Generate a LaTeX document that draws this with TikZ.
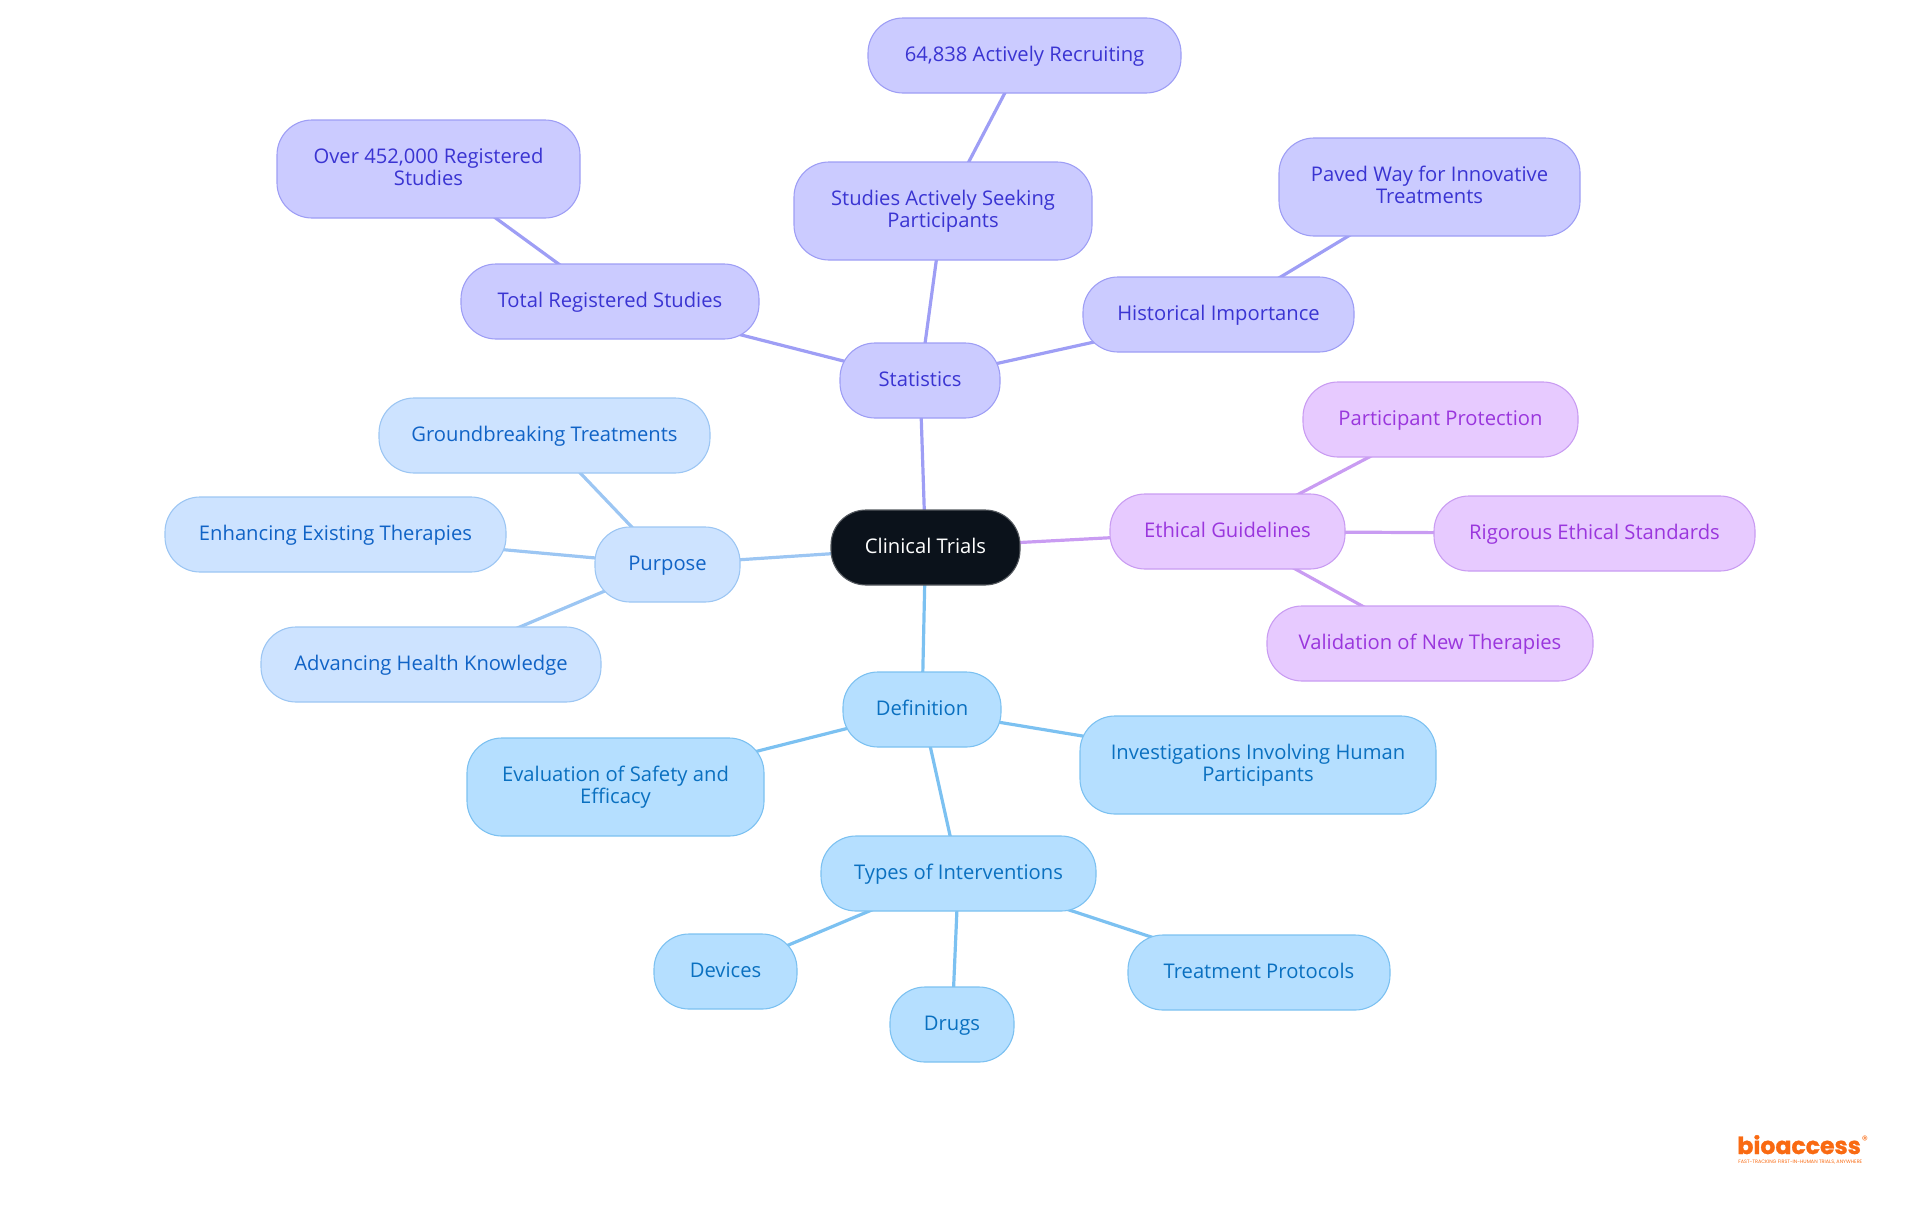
\documentclass[tikz,border=0pt]{standalone}
\usepackage{fontspec}
\setmainfont{Open Sans}
\newfontfamily\logofont[BoldFeatures={FakeBold=1.2}]{Poppins}
\usetikzlibrary{backgrounds}
\definecolor{stF}{HTML}{CBCBFF}\definecolor{stD}{HTML}{9E9EF5}\definecolor{stT}{HTML}{3A34D2}
\definecolor{etF}{HTML}{E7CAFF}\definecolor{etD}{HTML}{C99CF2}\definecolor{etT}{HTML}{9A36DD}
\definecolor{puF}{HTML}{CDE3FF}\definecolor{puD}{HTML}{9CC6F3}\definecolor{puT}{HTML}{1063C6}
\definecolor{deF}{HTML}{B5DFFF}\definecolor{deD}{HTML}{7CC1F1}\definecolor{deT}{HTML}{0A70C0}
\definecolor{ctF}{HTML}{0B121B}\definecolor{ctD}{HTML}{555A60}
\definecolor{logoC}{HTML}{F96A12}
\tikzset{
  mm/.style={rectangle,rounded corners=17.5pt,inner sep=0pt,line width=0.55pt,align=center,
    text height=8.3pt,text depth=2.6pt,
    font=\fontsize{10.1pt}{11pt}\selectfont},
  two/.style={text height=19.1pt},
  st/.style={mm,draw=stD,fill=stF,text=stT},
  et/.style={mm,draw=etD,fill=etF,text=etT},
  pu/.style={mm,draw=puD,fill=puF,text=puT},
  de/.style={mm,draw=deD,fill=deF,text=deT},
  ct/.style={mm,draw=ctD,fill=ctF,text=white},
  lnk/.style={line width=1.6pt},
}
\newcommand\mmnode[7]{%
  \pgfmathsetmacro\mmcx{(#3+#5)/2}\pgfmathsetmacro\mmcy{(#4+#6)/2}%
  \pgfmathsetmacro\mmw{(#5-#3)*0.5}\pgfmathsetmacro\mmh{(#6-#4)*0.5}%
  \node[#2,minimum width=\mmw pt,minimum height=\mmh pt] (#1) at (\mmcx,\mmcy) {#7};}
\begin{document}
\begin{tikzpicture}[x=0.5pt,y=-0.5pt]
\useasboundingbox (0,0) rectangle (1920,1215);
\mmnode{clin}{ct}{831}{510}{1020}{585}{Clinical Trials}
\mmnode{stat}{st}{840}{343}{1000}{418}{Statistics}
\mmnode{total}{st}{461}{264}{759}{339}{Total Registered Studies}
\mmnode{over}{st,two}{277}{120}{580}{218}{Over 452,000 Registered\\Studies}
\mmnode{seek}{st,two}{794}{162}{1092}{260}{Studies Actively Seeking\\Participants}
\mmnode{recr}{st}{868}{18}{1181}{93}{64,838 Actively Recruiting}
\mmnode{hist}{st}{1083}{277}{1354}{352}{Historical Importance}
\mmnode{paved}{st,two}{1279}{138}{1580}{236}{Paved Way for Innovative\\Treatments}
\mmnode{ethic}{et}{1110}{494}{1345}{569}{Ethical Guidelines}
\mmnode{part}{et}{1303}{382}{1578}{457}{Participant Protection}
\mmnode{rigo}{et}{1434}{496}{1755}{571}{Rigorous Ethical Standards}
\mmnode{vali}{et}{1267}{606}{1593}{681}{Validation of New Therapies}
\mmnode{purp}{pu}{595}{527}{740}{602}{Purpose}
\mmnode{grou}{pu}{379}{398}{710}{473}{Groundbreaking Treatments}
\mmnode{enha}{pu}{165}{497}{506}{572}{Enhancing Existing Therapies}
\mmnode{adva}{pu}{261}{627}{601}{702}{Advancing Health Knowledge}
\mmnode{defi}{de}{843}{672}{1001}{747}{Definition}
\mmnode{eval}{de,two}{467}{738}{764}{836}{Evaluation of Safety and\\Efficacy}
\mmnode{inve}{de,two}{1080}{716}{1436}{814}{Investigations Involving Human\\Participants}
\mmnode{type}{de}{821}{836}{1096}{911}{Types of Interventions}
\mmnode{devi}{de}{654}{934}{797}{1009}{Devices}
\mmnode{drug}{de}{890}{987}{1014}{1062}{Drugs}
\mmnode{trea}{de}{1128}{935}{1390}{1010}{Treatment Protocols}
\node[text=logoC,font=\logofont\bfseries\fontsize{11.8pt}{12pt}\selectfont,inner sep=0pt,anchor=base west] (logo) at (1737,1154) {bioaccess};
\node[text=logoC,font=\logofont\fontsize{6pt}{6pt}\selectfont,inner sep=0pt] (regm) at (1865,1140) {®};
\node[text=logoC,font=\logofont\fontsize{2.45pt}{3pt}\selectfont,inner sep=0pt,anchor=base west] (tag) at (1738,1163) {FAST-TRACKING FIRST-IN-HUMAN TRIALS, ANYWHERE};
\begin{scope}[on background layer]
\draw[lnk,stD] (clin.center)--(stat.center);
\draw[lnk,stD] (stat.center)--(total.center);
\draw[lnk,stD] (total.center)--(over.center);
\draw[lnk,stD] (stat.center)--(seek.center);
\draw[lnk,stD] (seek.center)--(recr.center);
\draw[lnk,stD] (stat.center)--(hist.center);
\draw[lnk,stD] (hist.center)--(paved.center);
\draw[lnk,etD] (clin.center)--(ethic.center);
\draw[lnk,etD] (ethic.center)--(part.center);
\draw[lnk,etD] (ethic.center)--(rigo.center);
\draw[lnk,etD] (ethic.center)--(vali.center);
\draw[lnk,puD] (clin.center)--(purp.center);
\draw[lnk,puD] (purp.center)--(grou.center);
\draw[lnk,puD] (purp.center)--(enha.center);
\draw[lnk,puD] (purp.center)--(adva.center);
\draw[lnk,deD] (clin.center)--(defi.center);
\draw[lnk,deD] (defi.center)--(eval.center);
\draw[lnk,deD] (defi.center)--(inve.center);
\draw[lnk,deD] (defi.center)--(type.center);
\draw[lnk,deD] (type.center)--(devi.center);
\draw[lnk,deD] (type.center)--(drug.center);
\draw[lnk,deD] (type.center)--(trea.center);
\end{scope}
\end{tikzpicture}
\end{document}
